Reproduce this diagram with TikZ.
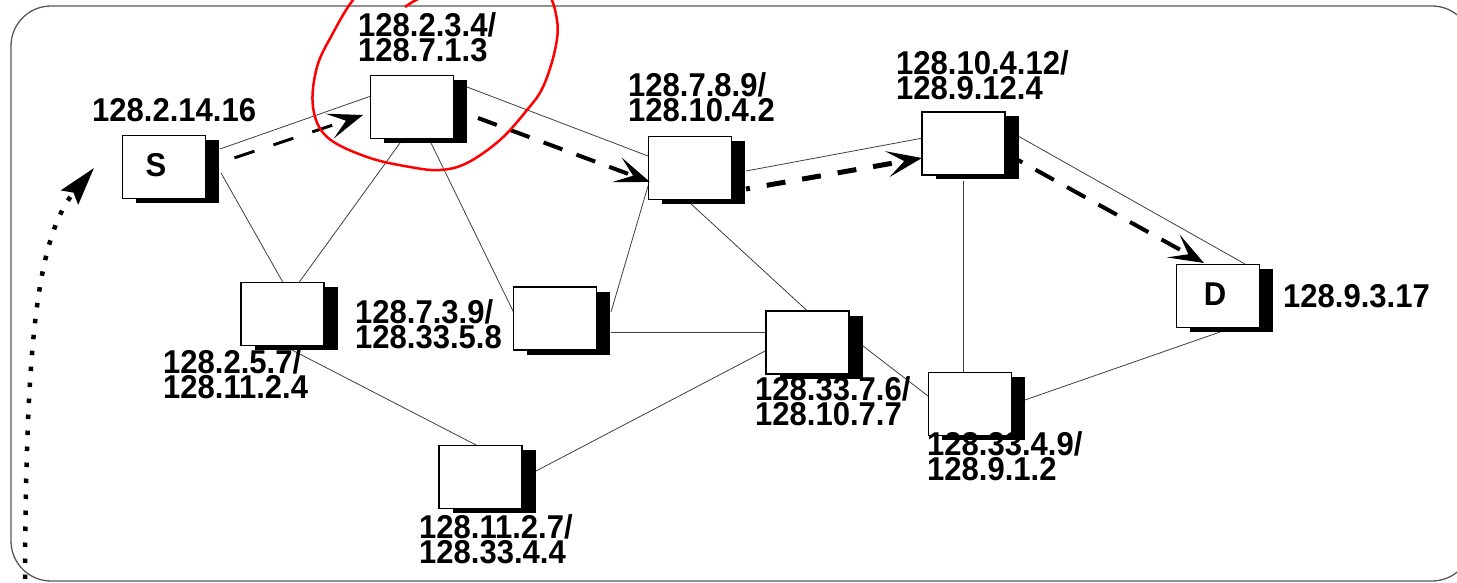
\documentclass[tikz,border=0pt]{standalone}
\usepackage{fontspec}
\setmainfont{Liberation Sans}
\newfontfamily\addrfont[FakeStretch=0.94]{Liberation Sans}
\usetikzlibrary{arrows.meta,shadows}
\begin{document}
\begin{tikzpicture}[x=1pt,y=-1pt,
  router/.style={draw=black, line width=1.1pt, fill=white, minimum width=83pt, minimum height=63pt, inner sep=0pt,
    general shadow={fill=black, shadow xshift=13.5pt, shadow yshift=-4.5pt}},
  addr/.style={font=\addrfont\fontsize{33}{25}\selectfont\bfseries, align=left, inner sep=0pt, anchor=base west},
  link/.style={draw=black!75, line width=0.8pt},
  route/.style={line width=4pt, line cap=butt, -{Stealth[length=35pt,width=26pt,inset=17pt]}},
  frame/.style={draw=black!65, line width=1.3pt, rounded corners=40pt},
]
\useasboundingbox (0,0) rectangle (1457,583);
\clip (0,0) rectangle (1457,583);
\fill[white] (0,0) rectangle (1457,583);
\draw[frame] (11,6) rectangle (1472,581);

% router positions
\coordinate (S)  at (164,167);
\coordinate (R1) at (412,107);
\coordinate (R2) at (690,168);
\coordinate (R3) at (963.5,143.5);
\coordinate (D)  at (1218,296);
\coordinate (R4) at (282.5,314);
\coordinate (R5) at (555,318.5);
\coordinate (R6) at (807.5,342.5);
\coordinate (R7) at (970,404);
\coordinate (R8) at (480.5,477);

% links
\draw[link] ([shift={(56,-18)}]S) -- ([shift={(-41,-11)}]R1);
\draw[link] ([shift={(57,6)}]S) -- ([shift={(0.5,-31.5)}]R4);
\draw[link] ([shift={(-12,36)}]R1) -- ([shift={(16.5,-31.5)}]R4);
\draw[link] ([shift={(19,36)}]R1) -- ([shift={(-41,-5.5)}]R5);
\draw[link] ([shift={(55,-20)}]R1) -- ([shift={(-42,-12)}]R2);
\draw[link] ([shift={(-42,18)}]R2) -- ([shift={(56,-6.5)}]R5);
\draw[link] ([shift={(0,35)}]R2) -- ([shift={(0.5,-31)}]R6);
\draw[link] ([shift={(56,3)}]R2) -- ([shift={(-40.5,-5.5)}]R3);
\draw[link] ([shift={(54.5,-7.5)}]R3) -- ([shift={(27,-32)}]D);
\draw[link] ([shift={(-0.5,37.5)}]R3) -- ([shift={(-7,-32)}]R7);
\draw[link] ([shift={(2,36)}]D) -- ([shift={(52,-3)}]R7);
\draw[link] ([shift={(56,13.5)}]R5) -- ([shift={(-40.5,-10.5)}]R6);
\draw[link] ([shift={(-40.5,7.5)}]R6) -- ([shift={(55.5,-6)}]R8);
\draw[link] ([shift={(7.5,35)}]R4) -- ([shift={(-2.5,-31)}]R8);
\draw[link] ([shift={(55.5,3.5)}]R6) -- ([shift={(-42,-8)}]R7);

% routers on top of links
\node[router] (nS)  at (S) {};
\node[router] (n1)  at (R1) {};
\node[router] (n2)  at (R2) {};
\node[router] (n3)  at (R3) {};
\node[router] (nD)  at (D) {};
\node[router] (n4)  at (R4) {};
\node[router] (n5)  at (R5) {};
\node[router] (n6)  at (R6) {};
\node[router] (n7)  at (R7) {};
\node[router] (n8)  at (R8) {};

% route arrows
\draw[route, line width=3pt, dash pattern=on 21pt off 20pt, dash phase=-10pt] ([shift={(61,-6)}]nS.center) -- ([shift={(-49,8)}]n1.center);
\draw[route, dash pattern=on 20pt off 15pt] ([shift={(66,11)}]n1.center) -- ([shift={(-40,14)}]n2.center);
\draw[route, line width=5pt, dash pattern=on 19pt off 17pt, dash phase=15pt] ([shift={(56,21)}]n2.center) -- ([shift={(-41.5,14.5)}]n3.center);
\draw[route, dash pattern=on 21pt off 15pt, dash phase=16pt] ([shift={(54.5,16.5)}]n3.center) -- ([shift={(-14,-33)}]nD.center);

% labels (anchor = baseline of last line)
\node[addr] (lS) at (92,122) {128.2.14.16};
\node[addr] (l1) at (358,62) {128.2.3.4/\\128.7.1.3};
\node[addr] (l2) at (628,122) {128.7.8.9/\\128.10.4.2};
\node[addr] (l3) at (896,100) {128.10.4.12/\\128.9.12.4};
\node[addr] (lD) at (1283,307) {128.9.3.17};
\node[addr] (l4) at (163,398) {128.2.5.7/\\128.11.2.4};
\node[addr] (l5) at (355,348) {128.7.3.9/\\128.33.5.8};
\node[addr] (l6) at (755,425) {128.33.7.6/\\128.10.7.7};
\node[addr] (l7) at (927,480) {128.33.4.9/\\128.9.1.2};
\node[addr] (l8) at (419,563) {128.11.2.7/\\128.33.4.4};
\node[addr, anchor=base] (tS) at (156,177) {S};
\node[addr, anchor=base] (tD) at (1215,305) {D};

% dotted return arrow
\coordinate (dotA) at (25,579);
\coordinate (dotB) at (94,168);
\draw[line width=4.5pt, dash pattern=on 4.5pt off 11.5pt, -{Stealth[length=38pt,width=22pt,inset=6pt]}]
  (dotA) .. controls (26,350) and (36,238) .. (dotB);

% red highlight loop
\draw[red, line width=2.5pt] plot[smooth, tension=0.6] coordinates {
  (405,7) (418,-1) (450,-15) (510,-20) (545,-10) (557,20) (555,50) (543,87) (527,110) (500,140)
  (467,163) (440,170) (410,167) (367,157) (327,137) (313,107) (317,67) (333,33) (353,0) (375,-20)};
\end{tikzpicture}
\end{document}
